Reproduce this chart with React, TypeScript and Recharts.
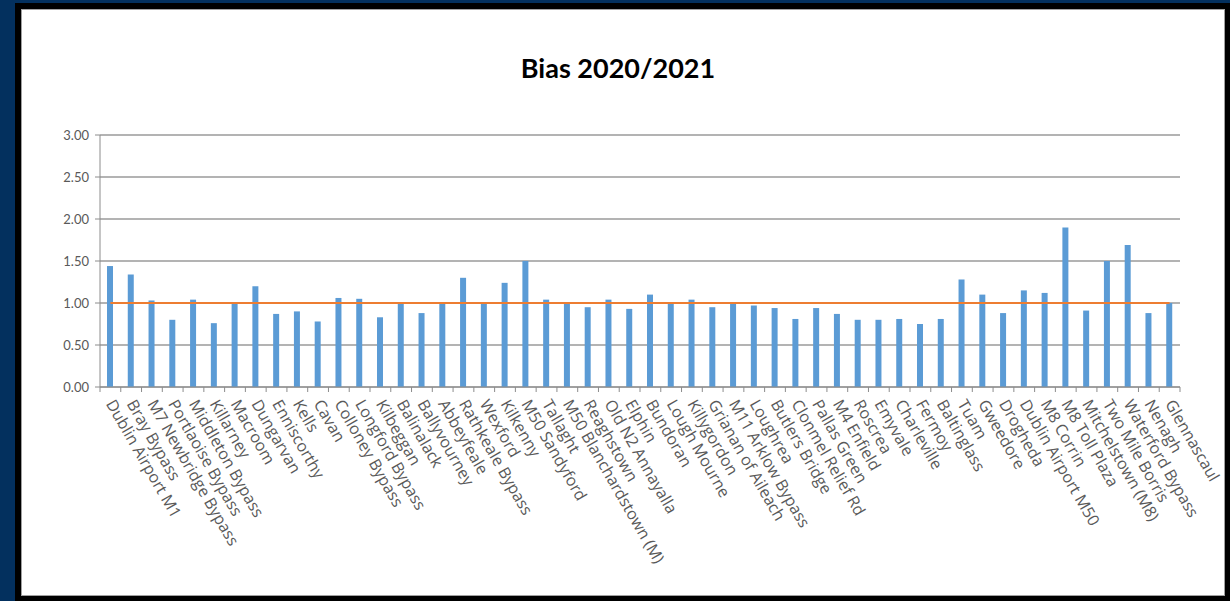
import { ComposedChart, Bar, Line, XAxis, YAxis, CartesianGrid } from 'recharts';

// Sites, in the order shown on the chart
const stations = [
    'Dublin Airport M1', 'Bray Bypass', 'M7 Newbridge Bypass', 'Portlaoise Bypass', 'Middleton Bypass',
    'Killarney', 'Macroom', 'Dungarvan', 'Enniscorthy', 'Kells', 'Cavan', 'Colloney Bypass',
    'Longford Bypass', 'Kilbeggan', 'Balinalack', 'Ballyvourney', 'Abbeyfeale', 'Rathkeale Bypass',
    'Wexford', 'Kilkenny', 'M50 Sandyford', 'Tallaght', 'M50 Blanchardstown (M)', 'Reaghstown',
    'Old N2 Annayalla', 'Elphin', 'Bundoran', 'Lough Mourne', 'Killygordon', 'Grianan of Aileach',
    'M11 Arklow Bypass', 'Loughrea', 'Butlers Bridge', 'Clonmel Relief Rd', 'Pallas Green',
    'M4 Enfield', 'Roscrea', 'Emyvale', 'Charleville', 'Fermoy', 'Baltinglass', 'Tuam', 'Gweedore',
    'Drogheda', 'Dublin Airport M50', 'M8 Corrin', 'M8 Toll Plaza', 'Mitchelstown (M8)',
    'Two Mile Borris', 'Waterford Bypass', 'Nenagh', 'Glennascaul',
];

const bias = [
    1.44, 1.34, 1.03, 0.80, 1.04, 0.76, 1.00, 1.20, 0.87, 0.90, 0.78, 1.06,
    1.05, 0.83, 1.00, 0.88, 0.99, 1.30, 1.00, 1.24, 1.50, 1.04, 1.00, 0.95,
    1.04, 0.93, 1.10, 1.00, 1.04, 0.95, 1.00, 0.97, 0.94, 0.81, 0.94, 0.87,
    0.80, 0.80, 0.81, 0.75, 0.81, 1.28, 1.10, 0.88, 1.15, 1.12, 1.90, 0.91,
    1.50, 1.69, 0.88, 1.00,
];

const target = 1.0;
const yTicks = [0, 0.5, 1, 1.5, 2, 2.5, 3];

const data = stations.map((name, i) => ({ name, bias: bias[i], target }));

const PLOT_LEFT = 100;
const PLOT_RIGHT = 1180;
const PLOT_BOTTOM = 387;

const CategoryTick = (props: any) => {
    const { x, y, payload, index } = props;
    const band = (PLOT_RIGHT - PLOT_LEFT) / stations.length;
    const last = index === stations.length - 1;
    return (
        <g>
            <line x1={x - band / 2} x2={x - band / 2} y1={PLOT_BOTTOM} y2={PLOT_BOTTOM + 5} stroke="#8c8c8c" />
            {last && <line x1={x + band / 2} x2={x + band / 2} y1={PLOT_BOTTOM} y2={PLOT_BOTTOM + 5} stroke="#8c8c8c" />}
            <text
                transform={`translate(${x},${y + 6}) rotate(60)`}
                textAnchor="start"
                dy="0.35em"
                fill="#595959"
                fontSize={16}
                fontFamily="'Open Sans', sans-serif"
            >
                {payload.value}
            </text>
        </g>
    );
};

export default function App() {
    return (
        <div style={{ position: 'absolute', left: 0, top: 0, width: 1230, height: 601, background: '#03305e', overflow: 'hidden' }}>
            <div style={{ position: 'absolute', left: 15, top: 3, width: 1215, height: 598, background: '#000' }} />
            <div
                style={{
                    position: 'absolute', left: 21, top: 9, width: 1204, height: 587,
                    background: '#fff', border: '1px solid #a0a0a0', boxSizing: 'border-box',
                }}
            />
            <div
                style={{
                    position: 'absolute', left: 0, top: 51, width: 1236, textAlign: 'center',
                    fontFamily: 'Lato, sans-serif', fontWeight: 700, fontSize: 27, color: '#000',
                }}
            >
                Bias 2020/2021
            </div>
            <div style={{ position: 'absolute', left: 0, top: 0 }}>
                <ComposedChart width={1230} height={601} data={data} margin={{ top: 135, right: 50, left: 40, bottom: 0 }}>
                    <CartesianGrid vertical={false} stroke="#9a9a9a" strokeWidth={1.3} />
                    <XAxis
                        dataKey="name"
                        interval={0}
                        height={214}
                        tickLine={false}
                        axisLine={{ stroke: '#8c8c8c' }}
                        tick={<CategoryTick />}
                    />
                    <YAxis
                        width={60}
                        domain={[0, 3]}
                        ticks={yTicks}
                        tickFormatter={(v: number) => v.toFixed(2)}
                        tickSize={5}
                        tickMargin={6}
                        axisLine={{ stroke: '#8c8c8c' }}
                        tickLine={{ stroke: '#8c8c8c' }}
                        tick={{ fill: '#595959', fontSize: 13, fontFamily: 'Lato, sans-serif' }}
                    />
                    <Bar dataKey="bias" fill="#5b9bd5" barSize={6} isAnimationActive={false} />
                    <Line dataKey="target" stroke="#ed7d31" strokeWidth={2} dot={false} isAnimationActive={false} />
                </ComposedChart>
            </div>
        </div>
    );
}
